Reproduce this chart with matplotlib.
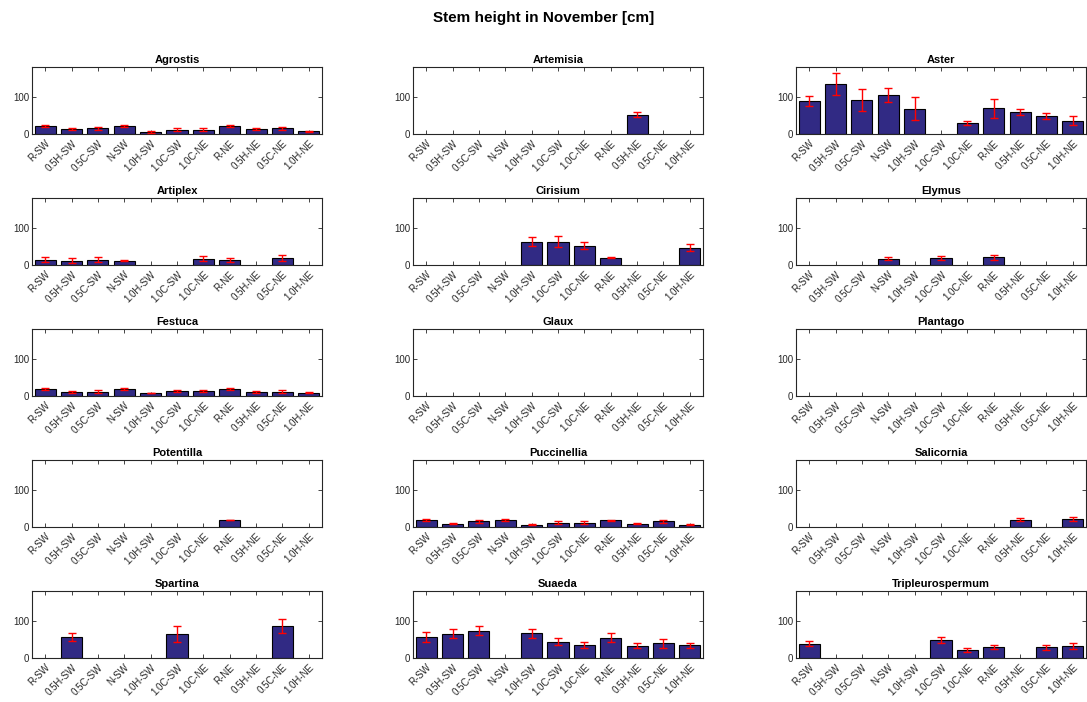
import numpy as np
import matplotlib
matplotlib.use("Agg")
import matplotlib.pyplot as plt

plt.rcParams["font.family"] = ["Liberation Sans", "DejaVu Sans"]

CATEGORIES = ["R-SW", "0.5H-SW", "0.5C-SW", "N-SW", "1.0H-SW", "1.0C-SW",
              "1.0C-NE", "R-NE", "0.5H-NE", "0.5C-NE", "1.0H-NE"]

N = None  # pas de mesure

species = ["Agrostis", "Artemisia", "Aster",
           "Artiplex", "Cirisium", "Elymus",
           "Festuca", "Glaux", "Plantago",
           "Potentilla", "Puccinellia", "Salicornia",
           "Spartina", "Suaeda", "Tripleurospermum"]

agrostis_mean = [21, 13, 15, 21, 6, 12, 12, 21, 13, 15, 7]
agrostis_err = [3, 3, 3, 3, 2, 3, 3, 3, 3, 3, 2]
artemisia_mean = [N, N, N, N, N, N, N, N, 52, N, N]
artemisia_err = [N, N, N, N, N, N, N, N, 6, N, N]
aster_mean = [89, 135, 91, 105, 68, N, 29, 69, 59, 49, 36]
aster_err = [14, 30, 30, 18, 31, N, 6, 26, 8, 8, 12]
artiplex_mean = [14, 12, 14, 12, N, N, 17, 13, N, 19, N]
artiplex_err = [7, 6, 7, 2, N, N, 6, 5, N, 7, N]
cirisium_mean = [N, N, N, N, 63, 63, 52, 20, N, N, 47]
cirisium_err = [N, N, N, N, 11, 15, 10, 2, N, N, 10]
elymus_mean = [N, N, N, 17, N, 19, N, 21, N, N, N]
elymus_err = [N, N, N, 4, N, 5, N, 7, N, N, N]
festuca_mean = [18, 11, 12, 18, 8, 14, 14, 18, 11, 12, 9]
festuca_err = [3, 2, 3, 3, 1, 3, 3, 3, 2, 3, 1]
glaux_mean = [N] * 11
glaux_err = [N] * 11
plantago_mean = [N] * 11
plantago_err = [N] * 11
potentilla_mean = [N, N, N, N, N, N, N, 20, N, N, N]
potentilla_err = [N, N, N, N, N, N, N, 0, N, N, N]
puccinellia_mean = [18, 9, 16, 18, 6, 12, 12, 18, 9, 16, 6]
puccinellia_err = [3, 2, 4, 3, 1, 4, 4, 2, 2, 4, 1]
salicornia_mean = [N, N, N, N, N, N, N, N, 19, N, 21]
salicornia_err = [N, N, N, N, N, N, N, N, 4, N, 6]
spartina_mean = [N, 56, N, N, N, 64, N, N, N, 86, N]
spartina_err = [N, 10, N, N, N, 22, N, N, N, 19, N]
suaeda_mean = [56, 65, 73, N, 67, 44, 35, 55, 33, 40, 34]
suaeda_err = [14, 12, 12, N, 12, 9, 8, 11, 7, 12, 7]
triple_mean = [38, N, N, N, N, 48, 21, 29, N, 29, 32]
triple_err = [7, N, N, N, N, 8, 6, 6, N, 7, 7]

means = [agrostis_mean, artemisia_mean, aster_mean,
         artiplex_mean, cirisium_mean, elymus_mean,
         festuca_mean, glaux_mean, plantago_mean,
         potentilla_mean, puccinellia_mean, salicornia_mean,
         spartina_mean, suaeda_mean, triple_mean]
errs = [agrostis_err, artemisia_err, aster_err,
        artiplex_err, cirisium_err, elymus_err,
        festuca_err, glaux_err, plantago_err,
        potentilla_err, puccinellia_err, salicornia_err,
        spartina_err, suaeda_err, triple_err]

W, H = 1087, 702
fig = plt.figure(figsize=(W / 100, H / 100), dpi=100)
fig.suptitle("Stem height in November [cm]", fontsize=11, fontweight="bold", y=0.985)

col_left = [32, 413, 796]
row_top = [67, 198, 329, 460, 591]
ax_w, ax_h = 290, 67

x = np.arange(len(CATEGORIES))
for k, name in enumerate(species):
    r, c = divmod(k, 3)
    ax = fig.add_axes([col_left[c] / W, 1 - (row_top[r] + ax_h) / H, ax_w / W, ax_h / H])
    m = np.array([np.nan if v is None else v for v in means[k]], dtype=float)
    e = np.array([np.nan if v is None else v for v in errs[k]], dtype=float)
    ax.bar(x, m, width=0.8, color="#312a84", edgecolor="black", linewidth=0.8, zorder=2)
    ax.errorbar(x, m, yerr=e, fmt="none", ecolor="red", elinewidth=1.0,
                capsize=3, capthick=1.0, zorder=3)
    ax.set_xlim(-0.5, len(CATEGORIES) - 0.5)
    ax.set_ylim(0, 180)
    ax.set_yticks([0, 100])
    ax.set_xticks(x)
    ax.set_xticklabels(CATEGORIES, rotation=45, ha="right", rotation_mode="anchor")
    ax.tick_params(direction="in", length=3, width=0.6, labelsize=7,
                   colors="#262626", top=True, right=True, pad=2)
    ax.tick_params(axis="x", pad=3)
    for s in ax.spines.values():
        s.set_linewidth(0.8)
        s.set_color("#262626")
    ax.set_title(name, fontsize=8, fontweight="bold", pad=3)

fig.savefig("out.png", dpi=100)
